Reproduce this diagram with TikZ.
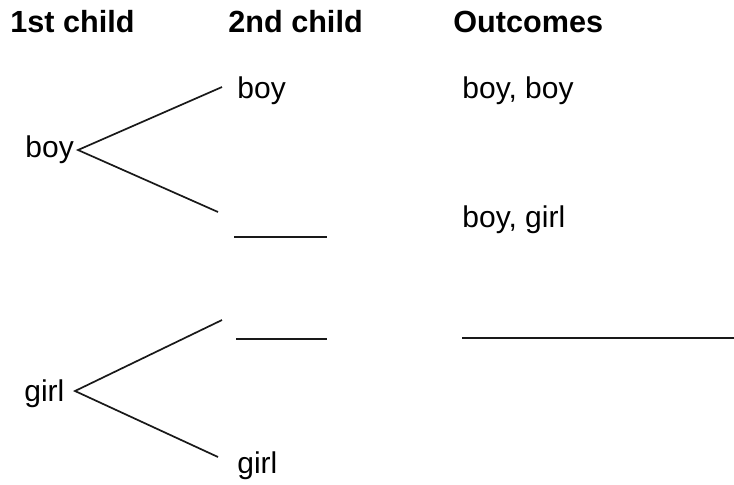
\documentclass[tikz,border=0pt]{standalone}
\usepackage{fontspec}
\setmainfont{Liberation Sans}
\begin{document}
\begin{tikzpicture}[x=0.5pt,y=-0.5pt,
  lbl/.style={anchor=base west,inner sep=0pt,font=\fontsize{15}{18}\selectfont},
  hdr/.style={lbl,font=\fontsize{15.3}{18}\selectfont\bfseries},
  branch/.style={line width=0.85pt,black!90},
  blank/.style={line width=0.85pt,black!90}]
\useasboundingbox (0,0) rectangle (734,484);
% headers
\node[hdr] (h1) at (10,32) {1st child};
\node[hdr] (h2) at (228,32) {2nd child};
\node[hdr] (h3) at (453,32) {Outcomes};
% first level
\node[lbl] (boy1) at (25,157) {boy};
\node[lbl] (girl1) at (24,401) {girl};
% second level
\node[lbl] (boy2) at (237,98) {boy};
\node[lbl] (girl2) at (237,473) {girl};
% outcomes
\node[lbl] (o1) at (462,98) {boy, boy};
\node[lbl] (o2) at (462,227) {boy, girl};
% branch points
\coordinate (v1) at (78,150);
\coordinate (v2) at (75,391);
\coordinate (e1) at (222,87);
\coordinate (e2) at (218,212);
\coordinate (e3) at (222,320);
\coordinate (e4) at (218,457);
\draw[branch] (e1) -- (v1) -- (e2);
\draw[branch] (e3) -- (v2) -- (e4);
% blanks
\coordinate (b1a) at (234,237); \coordinate (b1b) at (327,237);
\coordinate (b2a) at (236,339); \coordinate (b2b) at (327,339);
\coordinate (b3a) at (462,338); \coordinate (b3b) at (734,338);
\draw[blank] (b1a) -- (b1b);
\draw[blank] (b2a) -- (b2b);
\draw[blank] (b3a) -- (b3b);
\end{tikzpicture}
\end{document}
